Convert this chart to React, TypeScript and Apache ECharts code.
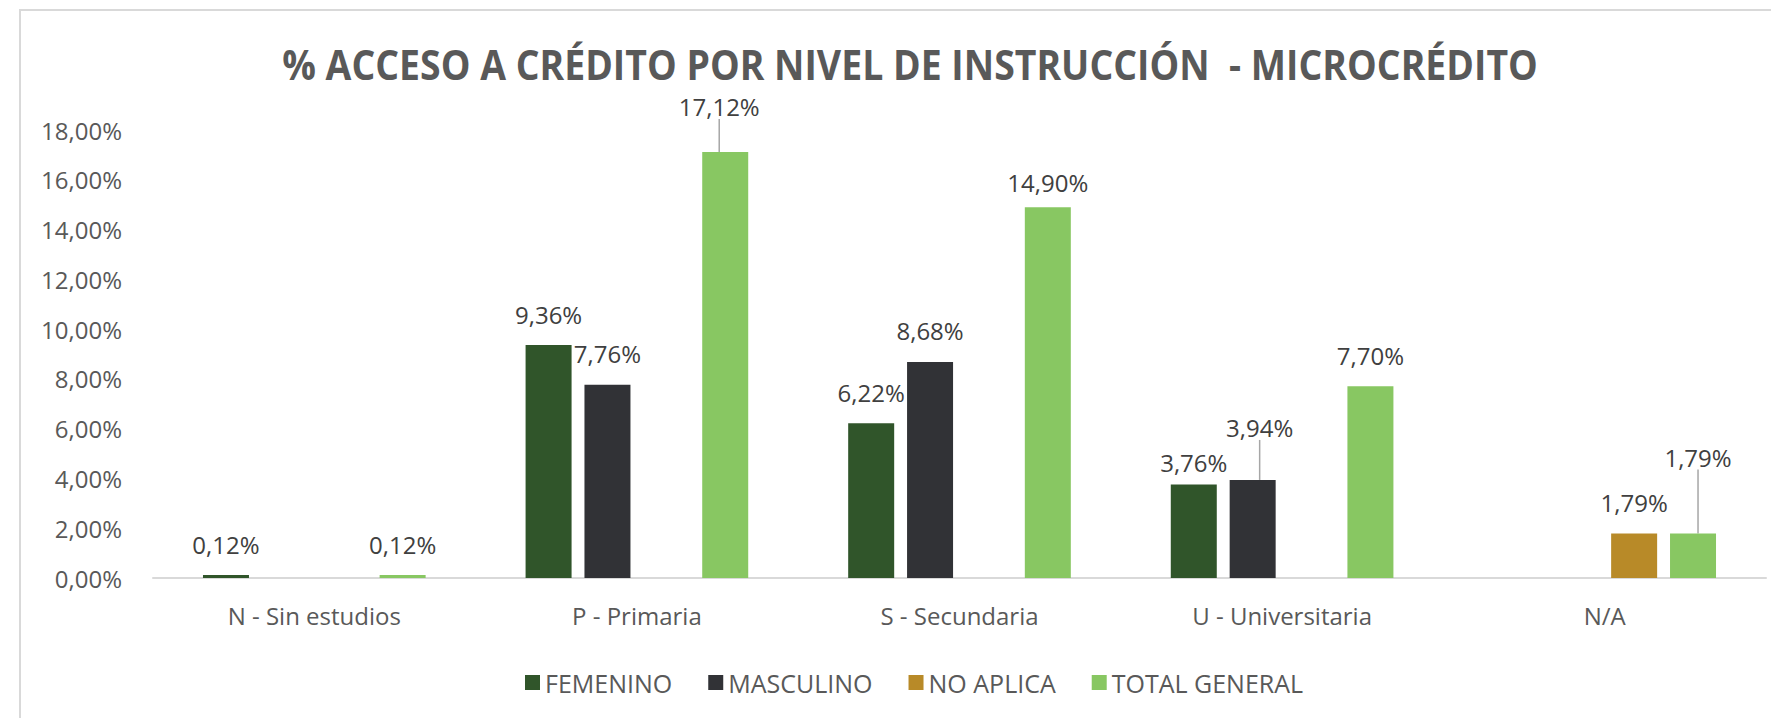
import React, { useEffect, useRef } from "react";
import * as echarts from "echarts";

const TITLE = "% ACCESO A CRÉDITO POR NIVEL DE INSTRUCCIÓN  - MICROCRÉDITO";
const categories = ["N - Sin estudios", "P - Primaria", "S - Secundaria", "U - Universitaria", "N/A"];
const seriesNames = ["FEMENINO", "MASCULINO", "NO APLICA", "TOTAL GENERAL"];
const femenino = [0.12, 9.36, 6.22, 3.76, null];
const masculino = [null, 7.76, 8.68, 3.94, null];
const noAplica = [null, null, null, null, 1.79];
const totalGeneral = [0.12, 17.12, 14.9, 7.7, 1.79];
const yTicks = { min: 0, max: 18, interval: 2 };

const colors = ["#30552A", "#313236", "#B88A28", "#88C762"];
// label offsets (dx, dy) for moved labels: [seriesIndex][dataIndex]
const labelMoves: Array<Array<[number, number]>> = [
  [[0, 0], [0, 0], [0, 0], [0, 9], [0, 0]],
  [[0, 0], [0, 0], [0, 0], [7, -21], [0, 0]],
  [[0, 0], [0, 0], [0, 0], [0, 0], [0, 0]],
  [[0, 0], [-6, -14], [0, 6], [0, 0], [5, -45]],
];
const leaderLines: Array<[number, number]> = [[1, 3], [3, 1], [3, 4]];

const fmt = (v: number) => v.toFixed(2).replace(".", ",") + "%";

export default function App() {
  const ref = useRef<HTMLDivElement>(null);
  useEffect(() => {
    if (!ref.current) return;
    const chart = echarts.init(ref.current, undefined, { renderer: "svg" });
    const titleFont = "bold 42px 'Open Sans'";
    let scaleX = 0.78;
    try {
      const ctx = document.createElement("canvas").getContext("2d");
      if (ctx) {
        ctx.font = titleFont;
        const w = ctx.measureText(TITLE).width;
        if (w > 0) scaleX = 1256 / w;
      }
    } catch (e) {}

    const lists = [femenino, masculino, noAplica, totalGeneral];
    const series = lists.map((vals, si) => ({
      name: seriesNames[si],
      type: "bar",
      barWidth: 46,
      barGap: "28%",
      itemStyle: { color: colors[si] },
      label: {
        show: true,
        position: "top",
        distance: 19,
        fontFamily: "'Open Sans'",
        fontSize: 24,
        color: "#404040",
        formatter: (p: any) => fmt(p.value),
      },
      labelLine: { show: false },
      labelLayout: (p: any) => {
        const m = labelMoves[p.seriesIndex][p.dataIndex];
        return { dx: m[0], dy: m[1] };
      },
      data: vals.map((v, di) => {
        const hasLine = leaderLines.some(([s, d]) => s === si && d === di);
        return hasLine
          ? { value: v, labelLine: { show: true, lineStyle: { color: "#A6A6A6", width: 1.5 } } }
          : { value: v };
      }),
    }));

    chart.setOption({
      animation: false,
      backgroundColor: "#ffffff",
      textStyle: { fontFamily: "'Open Sans'" },
      graphic: [
        {
          type: "rect",
          shape: { x: 20, y: 10, width: 1800, height: 800 },
          style: { fill: "none", stroke: "#D9D9D9", lineWidth: 2 },
          silent: true,
        },
        {
          type: "text",
          x: 910,
          y: 64,
          scaleX: scaleX,
          style: {
            text: TITLE,
            font: titleFont,
            fill: "#595959",
            textAlign: "center",
            textVerticalAlign: "middle",
          },
        },
      ],
      grid: { left: 153, right: 5, top: 130, bottom: 140, containLabel: false },
      legend: {
        data: seriesNames,
        left: 520,
        top: 665,
        itemWidth: 15,
        itemHeight: 15,
        itemGap: 36,
        icon: "rect",
        textStyle: { fontSize: 25, color: "#595959", fontFamily: "'Open Sans'" },
      },
      xAxis: {
        type: "category",
        data: categories,
        axisLine: { show: true, lineStyle: { color: "#D9D9D9", width: 2 } },
        axisTick: { show: false },
        axisLabel: { fontSize: 24, color: "#595959", margin: 25, fontFamily: "'Open Sans'" },
      },
      yAxis: {
        type: "value",
        min: yTicks.min,
        max: yTicks.max,
        interval: yTicks.interval,
        axisLine: { show: false },
        axisTick: { show: false },
        splitLine: { show: false },
        axisLabel: {
          fontSize: 24,
          color: "#595959",
          margin: 31,
          fontFamily: "'Open Sans'",
          formatter: (v: number) => fmt(v),
        },
      },
      series,
    });
    return () => chart.dispose();
  }, []);
  return (
    <div
      ref={ref}
      style={{ position: "fixed", left: 0, top: 0, width: 1771, height: 718, background: "#fff" }}
    />
  );
}
